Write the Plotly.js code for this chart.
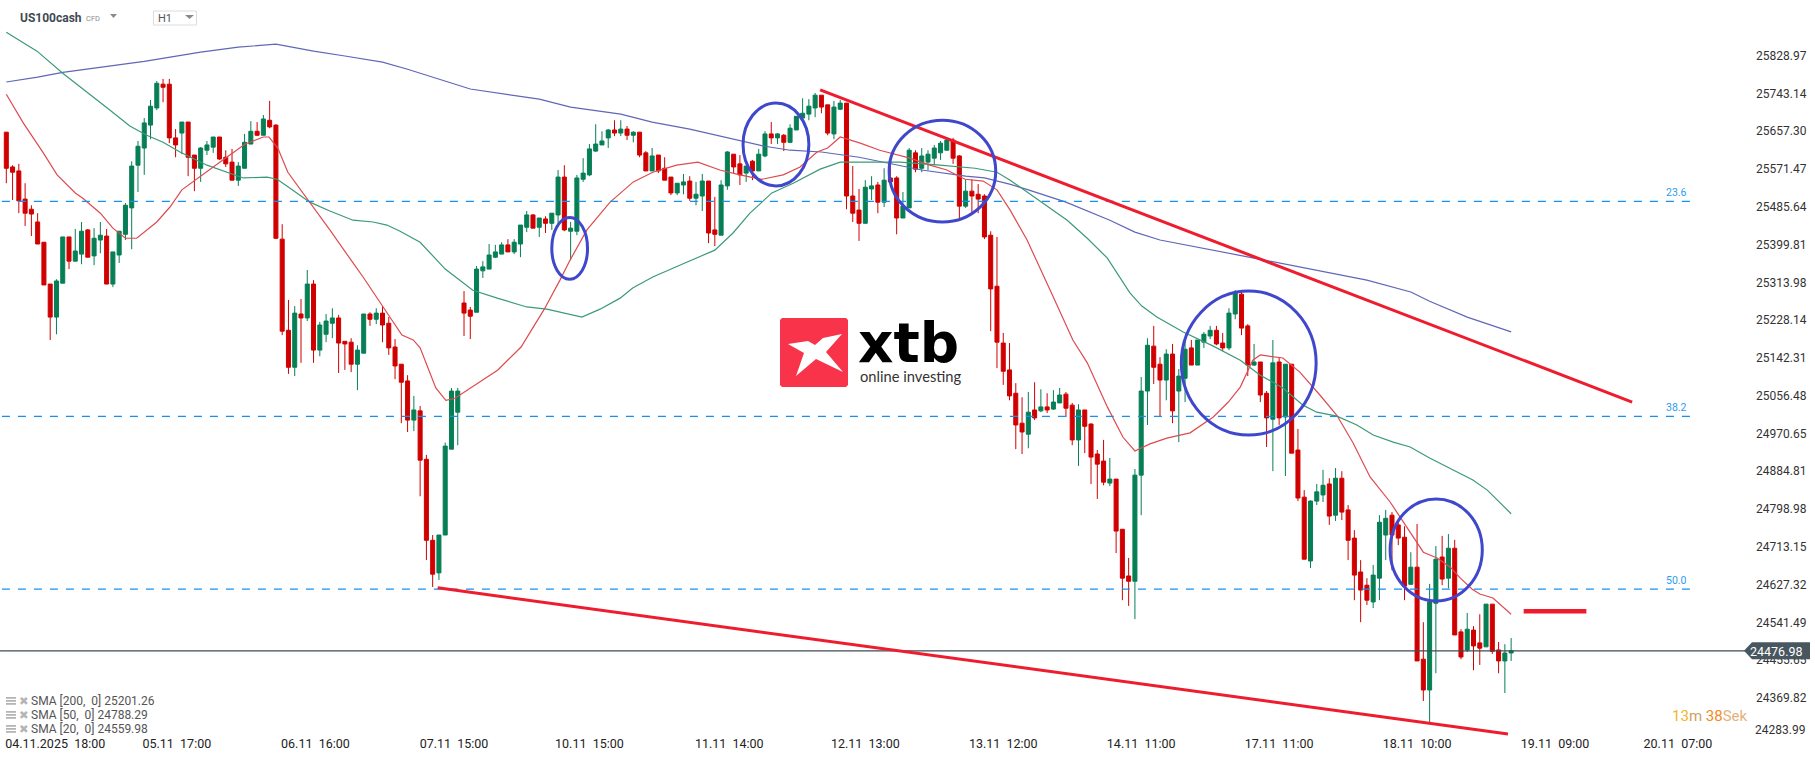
<!DOCTYPE html>
<html><head><meta charset="utf-8">
<script src="https://cdn.plot.ly/plotly-3.0.1.min.js"></script>
<style>html,body{margin:0;padding:0;background:#fff;overflow:hidden}#c{width:1815px;height:761px}</style>
</head><body><div id="c"></div>
<script>
const opens=[25655,25576,25567,25503,25480,25451,25405,25310,25235,25312,
25417,25362,25378,25433,25374,25410,25419,25310,25376,25423,
25483,25580,25619,25671,25710,25764,25764,25642,25653,25678,
25603,25573,25614,25621,25644,25598,25587,25546,25573,25628,
25657,25648,25682,25671,25412,25205,25121,25242,25233,25310,
25160,25196,25221,25233,25180,25178,25128,25153,25242,25230,
25244,25221,25167,25128,25090,25001,25022,24912,24728,24654,
24740,24935,25019,25267,25251,25246,25340,25344,25371,25378,
25399,25383,25401,25439,25467,25439,25458,25448,25467,25553,
25430,25430,25548,25558,25612,25626,25642,25660,25653,25662,
25648,25655,25608,25567,25603,25573,25553,25517,25535,25544,
25505,25510,25544,25433,25421,25533,25605,25583,25562,25589,
25567,25601,25651,25642,25648,25632,25660,25687,25696,25710,
25739,25717,25651,25707,25721,25510,25478,25448,25526,25535,
25496,25551,25551,25460,25483,25608,25573,25587,25596,25608,
25614,25637,25601,25487,25521,25514,25510,25421,25305,25176,
25115,25062,24994,24969,25024,25022,25031,25026,25040,25060,
25035,24956,25024,24992,24924,24908,24858,24867,24753,24647,
24635,24876,25067,25169,25128,25092,25151,25067,25096,25165,
25126,25178,25192,25205,25176,25165,25242,25287,25215,25126,
25133,25062,25003,25133,25008,25128,24933,24826,24681,24817,
24831,24856,24785,24869,24797,24733,24656,24626,24588,24642,
24740,24785,24763,24735,24628,24667,24458,24388,24585,24690,
24642,24710,24520,24479,24524,24495,24486,24583,24479,24454,
24472];
const highs=[25655,25580,25583,25539,25489,25471,25405,25310,25321,25417,
25417,25435,25451,25435,25437,25451,25435,25383,25430,25494,
25589,25635,25687,25728,25771,25776,25776,25662,25678,25678,
25603,25621,25635,25644,25644,25614,25617,25587,25651,25680,
25678,25694,25726,25673,25446,25274,25260,25276,25342,25319,
25224,25242,25255,25240,25180,25187,25171,25242,25246,25255,
25260,25235,25185,25128,25103,25056,25033,24922,24740,24740,
24950,25074,25074,25294,25258,25351,25362,25401,25399,25405,
25412,25412,25444,25476,25469,25460,25464,25471,25569,25580,
25451,25558,25596,25628,25673,25657,25662,25682,25682,25669,
25657,25655,25612,25619,25603,25598,25553,25539,25560,25555,
25542,25560,25544,25508,25546,25612,25605,25603,25578,25592,
25617,25657,25678,25653,25651,25673,25691,25732,25730,25744,
25739,25717,25726,25728,25721,25578,25526,25546,25555,25542,
25573,25580,25555,25519,25619,25614,25619,25614,25626,25635,
25642,25642,25603,25548,25548,25537,25514,25430,25417,25199,
25176,25085,25053,25065,25087,25071,25062,25069,25074,25065,
25040,25037,25024,24994,24933,24956,24915,24867,24753,24688,
24890,25099,25187,25215,25144,25162,25174,25117,25183,25183,
25183,25201,25215,25215,25199,25255,25296,25292,25219,25174,
25133,25067,25183,25142,25128,25128,24981,24842,24819,24856,
24888,24869,24892,24885,24808,24751,24683,24642,24672,24785,
24797,24792,24774,24760,24701,24765,24542,24629,24715,24738,
24742,24729,24526,24563,24533,24560,24583,24583,24497,24492,
24506];
const lows=[25539,25501,25471,25442,25419,25401,25308,25183,25196,25312,
25344,25362,25355,25371,25353,25380,25310,25303,25358,25410,
25389,25519,25558,25639,25705,25723,25630,25598,25605,25555,
25521,25542,25603,25608,25592,25576,25546,25533,25573,25628,
25646,25648,25664,25412,25194,25106,25101,25131,25226,25131,
25146,25178,25187,25108,25115,25110,25069,25153,25215,25219,
25178,25149,25094,24994,24974,24976,24828,24683,24622,24638,
24740,24935,24944,25192,25185,25246,25324,25344,25369,25378,
25383,25378,25371,25428,25437,25417,25426,25433,25439,25430,
25364,25421,25542,25555,25610,25626,25619,25646,25646,25637,
25632,25598,25567,25567,25562,25546,25512,25512,25514,25499,
25489,25476,25403,25396,25421,25524,25562,25535,25542,25546,
25567,25598,25628,25628,25612,25630,25660,25687,25682,25689,
25698,25648,25639,25705,25480,25451,25408,25448,25501,25471,
25485,25542,25423,25460,25483,25564,25564,25569,25580,25592,
25614,25583,25460,25483,25471,25471,25412,25203,25119,25081,
25046,24935,24924,24937,25001,25019,25017,25024,25040,25008,
24944,24897,24926,24856,24822,24853,24851,24699,24592,24579,
24549,24785,24990,25083,25010,25046,24994,24951,25042,25126,
25126,25165,25185,25171,25158,25160,25230,25194,25101,25124,
25042,24940,24885,24990,24874,24926,24817,24685,24665,24808,
24815,24763,24772,24774,24683,24592,24542,24581,24574,24592,
24683,24660,24717,24592,24628,24454,24363,24315,24426,24626,
24619,24513,24458,24474,24433,24445,24486,24470,24426,24381,
24454];
const closes=[25573,25564,25499,25471,25469,25401,25308,25235,25317,25417,
25362,25385,25430,25371,25414,25421,25310,25383,25430,25489,
25578,25623,25676,25714,25766,25757,25642,25626,25678,25598,
25573,25619,25626,25644,25594,25583,25546,25578,25632,25657,
25648,25685,25667,25414,25203,25121,25244,25233,25310,25160,
25217,25226,25233,25176,25174,25128,25160,25242,25230,25244,
25217,25165,25124,25087,25001,25024,24910,24728,24651,24740,
24942,25067,25067,25244,25237,25344,25349,25376,25383,25399,
25383,25405,25444,25467,25437,25460,25448,25471,25553,25433,
25437,25551,25562,25617,25628,25635,25660,25653,25662,25648,
25655,25603,25567,25601,25567,25546,25517,25539,25542,25505,
25514,25544,25426,25423,25535,25610,25576,25558,25578,25567,
25605,25651,25642,25651,25632,25664,25691,25698,25714,25739,
25712,25653,25712,25721,25510,25471,25448,25530,25533,25496,
25546,25542,25460,25487,25614,25571,25601,25605,25619,25630,
25637,25596,25487,25521,25510,25503,25417,25299,25178,25112,
25056,24990,24974,25019,25006,25031,25024,25042,25058,25028,
24956,25024,24987,24917,24901,24860,24867,24749,24642,24635,
24876,25067,25171,25121,25092,25151,25022,25101,25162,25126,
25183,25196,25205,25174,25165,25244,25292,25210,25126,25133,
25058,25006,25131,25006,25128,24926,24824,24685,24817,24838,
24853,24783,24869,24792,24728,24649,24615,24592,24649,24769,
24778,24740,24733,24624,24667,24454,24388,24588,24685,24640,
24710,24513,24463,24526,24488,24483,24583,24476,24454,24472,
24476.98];

const sma200X=[0,5,9,15,22,31,37,43,47,49,54,60,64,72,74,85,90,98,103,109,115,121,125,130,136,146,153,156,160,163,169,172,176,180,184,199,217,224,227,233,240];
const sma200Y=[25769,25780,25791,25803,25816,25837,25848,25855,25844,25839,25828,25814,25798,25762,25753,25730,25712,25696,25678,25662,25642,25623,25614,25610,25598,25569,25555,25551,25537,25524,25496,25478,25455,25428,25410,25369,25319,25292,25271,25235,25201.26];
const sma50X=[0,4.9,9,12.1,16.1,19.7,22.4,25,27.7,32,36.2,37.8,41.6,43.2,45.2,48.4,51.6,55.3,58.5,60.7,62.8,66,70,74.4,78.3,83,86.2,89.1,91.8,94.7,97.9,99.9,103.1,108.6,113,115.9,118.6,122.1,125.5,129.8,133,136.2,142.5,148.9,154.5,158,160.1,162.8,169.2,172.4,175.6,179.2,181.1,183.5,187.7,192.5,196.8,200,203.6,206.8,209,212.2,215.4,218,221.2,223.9,227,233.9,236.2,240];
const sma50Y=[25882,25839,25789,25755,25710,25669,25648,25632,25610,25580,25558,25551,25553,25548,25528,25496,25476,25455,25451,25444,25430,25405,25344,25296,25278,25258,25253,25244,25235,25253,25278,25301,25326,25360,25387,25426,25471,25517,25539,25571,25587,25587,25587,25580,25573,25564,25546,25519,25455,25414,25369,25290,25260,25235,25201,25169,25137,25103,25074,25035,25019,25010,24990,24967,24951,24940,24915,24865,24842,24788.29];
const sma20X=[0,2.7,5.9,8.1,11,12.2,15,17,19,20.8,24,26.1,28,32,34.1,38.1,41,41.9,43.3,44.9,48.4,51.6,55.3,56.9,60.1,63.1,64.9,66,68.5,70.1,71.5,72.8,78.4,82.1,85.8,88.3,89.9,92.6,96.3,100,103.1,106.9,110.3,113.8,117,120.5,123.9,126.6,129.3,131,133,136.2,139.3,144.1,147.3,150,152.9,155.8,158,160.1,162.8,167,170.1,172.4,175.6,178.1,180,182.4,185.1,188.8,192.5,194.9,196.8,198.8,200,203.6,206.3,209.5,212.2,214.8,217.5,220.7,222.3,224.4,226,228.2,230.3,231.9,233.8,235,237.1,240];
const sma20Y=[25741,25676,25608,25558,25517,25505,25471,25437,25414,25414,25451,25485,25524,25564,25587,25628,25644,25644,25619,25564,25496,25433,25358,25326,25258,25194,25183,25165,25074,25046,25050,25062,25115,25167,25253,25319,25364,25433,25496,25542,25564,25580,25587,25569,25558,25548,25558,25576,25610,25619,25644,25630,25614,25596,25580,25569,25548,25544,25524,25478,25410,25280,25183,25131,25031,24962,24931,24947,24960,24972,25008,25042,25076,25137,25149,25142,25110,25058,25012,24949,24872,24815,24781,24735,24701,24688,24667,24642,24617,24606,24597,24559.98];

const priceTicks=[25828.97,25743.14,25657.30,25571.47,25485.64,25399.81,25313.98,25228.14,25142.31,25056.48,24970.65,24884.81,24798.98,24713.15,24627.32,24541.49,24455.65,24369.82];
const bottomPriceTick=24283.99;
const timeTickPos=[7.8,27.2,49.3,71.4,93,115.3,137,159,181,203,225,247,266.6];
const timeTickText=["04.11.2025\u00a0\u00a018:00","05.11\u00a0\u00a017:00","06.11\u00a0\u00a016:00","07.11\u00a0\u00a015:00","10.11\u00a0\u00a015:00","11.11\u00a0\u00a014:00","12.11\u00a0\u00a013:00","13.11\u00a0\u00a012:00","14.11\u00a0\u00a011:00","17.11\u00a0\u00a011:00","18.11\u00a0\u00a010:00","19.11\u00a0\u00a009:00","20.11\u00a0\u00a007:00"];

const fibNames=["23.6","38.2","50.0"];
const fibPrices=[25498,25009.5,24617];
const fibX=[-0.7,268.8];
const fibLabelX=266.3;
const trendUpperX=[129.8,259.3], trendUpperY=[25751,25042];
const trendLowerX=[68.8,239.5], trendLowerY=[24620,24288];
const markX=[242,252], markY=[24567,24567];
const lastPrice=24476.98;
const circleX0=[87,117.5,140.8,187.4,220.7];
const circleX1=[92.7,128,157.8,208.9,235.4];
const circleTop=[25461,25721,25682,25294,24822];
const circleBottom=[25321,25533,25451,24967,24590];
const legendLabels=["SMA\u00a0[200,\u00a0\u00a00]\u00a025201.26","SMA\u00a0[50,\u00a0\u00a00]\u00a024788.29","SMA\u00a0[20,\u00a0\u00a00]\u00a024559.98"];

const W=1815,H=761,PR=1745,PB=736;
const px=x=>x/PR, py=y=>(PB-y)/PB;
const idx=opens.map((_,i)=>i);
const RED='#d00000',GREEN='#067f55',FONT='Roboto, sans-serif';

const traces=[
 {type:'candlestick',x:idx,open:opens,high:highs,low:lows,close:closes,
  whiskerwidth:0,
  increasing:{line:{color:GREEN,width:1},fillcolor:GREEN},
  decreasing:{line:{color:RED,width:1},fillcolor:RED},hoverinfo:'skip',showlegend:false},
 {type:'scatter',mode:'lines',x:sma200X,y:sma200Y,line:{color:'#5f67b7',width:1.2},hoverinfo:'skip'},
 {type:'scatter',mode:'lines',x:sma50X,y:sma50Y,line:{color:'#3b9a78',width:1.2},hoverinfo:'skip'},
 {type:'scatter',mode:'lines',x:sma20X,y:sma20Y,line:{color:'#dd4b50',width:1.2},hoverinfo:'skip'}
];
fibPrices.forEach(p=>traces.push({type:'scatter',mode:'lines',x:fibX,y:[p,p],line:{color:'#1490f0',width:1.3,dash:'8px,8px'},hoverinfo:'skip'}));
traces.push({type:'scatter',mode:'lines',x:[-1,277.3],y:[lastPrice,lastPrice],line:{color:'#3f4b53',width:1.2},hoverinfo:'skip'});
traces.push({type:'scatter',mode:'lines',x:trendUpperX,y:trendUpperY,line:{color:'#ee1c2e',width:3},hoverinfo:'skip'});
traces.push({type:'scatter',mode:'lines',x:trendLowerX,y:trendLowerY,line:{color:'#ee1c2e',width:3},hoverinfo:'skip'});
traces.push({type:'scatter',mode:'lines',x:markX,y:markY,line:{color:'#ee1c2e',width:4.5},hoverinfo:'skip'});

const pathOf=pts=>'M '+pts.map(p=>px(p[0])+' '+py(p[1])).join(' L ')+' Z';
const shapes=[];
circleX0.forEach((_,k)=>shapes.push({type:'circle',xref:'x',yref:'y',x0:circleX0[k],x1:circleX1[k],y0:circleBottom[k],y1:circleTop[k],line:{color:'#3f47cc',width:3},layer:'above'}));
shapes.push({type:'path',xref:'paper',yref:'y',xsizemode:'pixel',ysizemode:'pixel',xanchor:1,yanchor:lastPrice,
 path:'M -1 0 L 7 -8.5 L 65 -8.5 L 65 8.5 L 7 8.5 Z',fillcolor:'#47565f',line:{width:0},layer:'above'});
shapes.push({type:'path',xref:'paper',yref:'paper',path:pathOf([[782,318],[846,318],[848,320],[848,385],[846,387],[782,387],[780,385],[780,320]]),fillcolor:'#f9334a',line:{width:0},layer:'above'});
shapes.push({type:'path',xref:'paper',yref:'paper',path:pathOf([[788,344],[808,341],[815,345],[823,338],[842,334],[826,352],[843,372],[816,359],[796,376],[804,353]]),fillcolor:'#ffffff',line:{width:0},layer:'above'});
[701,715,729].forEach(y=>{
 [-4,-1,2].forEach(d=>shapes.push({type:'rect',xref:'paper',yref:'paper',x0:px(6),x1:px(16),y0:py(y+d),y1:py(y+d+1.8),fillcolor:'#b5b5b5',line:{width:0},layer:'above'}));
});
shapes.push({type:'rect',xref:'paper',yref:'paper',x0:px(153.5),x1:px(196.5),y0:py(25),y1:py(11),line:{color:'#dcdcdc',width:1},fillcolor:'#fff'});
shapes.push({type:'path',xref:'paper',yref:'paper',path:pathOf([[110,14],[117,14],[113.5,18]]),fillcolor:'#8a8a8a',line:{width:0}});
shapes.push({type:'path',xref:'paper',yref:'paper',path:pathOf([[185,15],[194,15],[189.5,19]]),fillcolor:'#8a8a8a',line:{width:0}});

const txt=(x,y,text,size,color,extra={})=>Object.assign({xref:'paper',yref:'paper',x:px(x),y:py(y),text,showarrow:false,xanchor:'left',yanchor:'middle',font:{family:FONT,size,color},borderpad:0,borderwidth:0},extra);
const annotations=[
 txt(20,18,'<b>US100cash</b>',12,'#3e4a53'),
 txt(86,19,'CFD',7.5,'#8c8c8c'),
 txt(158,19,'H1',11,'#555'),
 txt(1672,716,'<span style="color:#f7b32b">13</span><span style="color:#c9a35f">m</span> <span style="color:#f58a1f">38</span><span style="color:#e3b27a">Sek</span>',15,'#f58a1f'),
 txt(1755,PB-6,String(bottomPriceTick.toFixed(2)),12,'#333'),
 txt(1750,651.5,lastPrice.toFixed(2),12.5,'#ffffff'),
 txt(858,343,'<b>xtb</b>',55,'#000000',{font:{family:'DejaVu Sans',size:55,color:'#000'}}),
 txt(860,376,'online investing',14.7,'#333333',{font:{family:'Lato, sans-serif',size:14.7,color:'#333'}})
];
fibNames.forEach((n,k)=>annotations.push({xref:'x',yref:'y',x:fibLabelX,y:fibPrices[k],yshift:9,text:n,showarrow:false,font:{family:FONT,size:10.5,color:'#2c9cf0'}}));
legendLabels.forEach((t,k)=>{
 const y=[701,715,729][k];
 annotations.push(txt(31,y,t,12,'#555'));
 annotations.push(txt(19,y,'\u2716',11.5,'#b5b5b5',{font:{family:'DejaVu Sans',size:11.5,color:'#b5b5b5'}}));
});

Plotly.newPlot('c',traces,{
 width:W,height:H,showlegend:false,hovermode:false,dragmode:false,
 paper_bgcolor:'#fff',plot_bgcolor:'#fff',boxgap:0.36,boxgroupgap:0,
 margin:{l:0,r:W-PR,t:0,b:H-PB,pad:0},
 font:{family:FONT},
 xaxis:{type:'linear',range:[-1.005,277.3],showgrid:false,zeroline:false,showline:false,ticks:'',
  rangeslider:{visible:false},tickmode:'array',tickvals:timeTickPos,ticktext:timeTickText,
  tickfont:{family:FONT,size:12.5,color:'#222'},tickangle:0,ticklabelstandoff:-2},
 yaxis:{type:'linear',side:'right',range:[24283.5,25955.2],showgrid:false,zeroline:false,showline:false,ticks:'',
  tickmode:'array',tickvals:priceTicks,ticktext:priceTicks.map(v=>v.toFixed(2)),
  tickfont:{family:FONT,size:12,color:'#333'},ticklabelstandoff:10},
 shapes,annotations
},{staticPlot:true,displayModeBar:false,responsive:false});
</script></body></html>
